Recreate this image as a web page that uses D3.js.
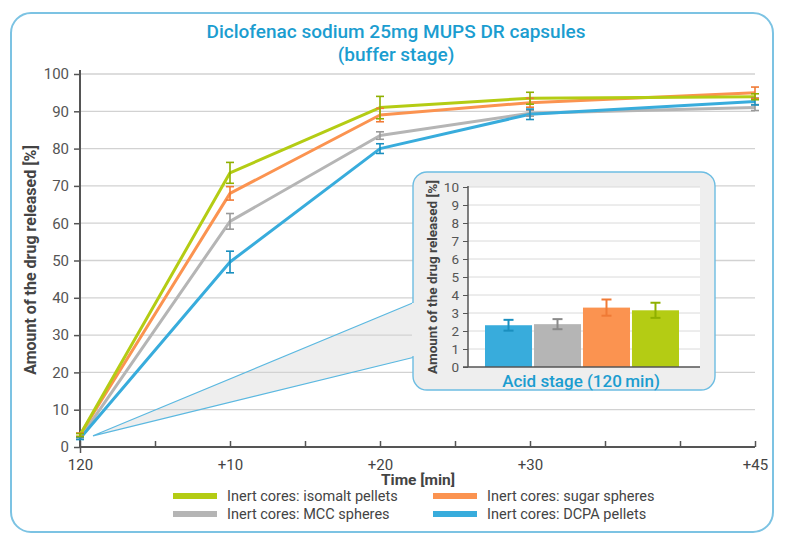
<!DOCTYPE html>
<html><head><meta charset="utf-8">
<script src="https://cdn.jsdelivr.net/npm/d3@7"></script>
<style>
body{margin:0;background:#fff;}
text{font-family:"Roboto","DejaVu Sans",sans-serif;}
</style></head>
<body>
<svg id="c" width="786" height="547"></svg>
<script>
// ---- data ----
const seriesNames = ["Inert cores: isomalt pellets","Inert cores: sugar spheres","Inert cores: MCC spheres","Inert cores: DCPA pellets"];
const seriesColors = ["#b4cc14","#fb9350","#b5b5b5","#38acdc"];
const errColors = ["#8fb000","#f07a35","#9a9a9a","#1a8fbf"];
const timePoints = [0,10,20,30,45];
const isomaltVals = [3.2,73.5,91.0,93.5,93.9];
const isomaltErr  = [0.4,2.8,3.0,1.6,0.8];
const sugarVals   = [3.3,68.0,89.0,92.3,95.0];
const sugarErr    = [0.45,1.8,1.8,1.2,1.5];
const mccVals     = [2.4,60.5,83.5,89.5,91.0];
const mccErr      = [0.3,2.1,1.0,0.8,0.8];
const dcpaVals    = [2.3,49.6,80.0,89.2,92.6];
const dcpaErr     = [0.3,2.9,1.3,1.4,0.9];
const xTickVals = [0,5,10,15,20,25,30,35,40,45];
const xTickLabels = {0:"120",10:"+10",20:"+20",30:"+30",45:"+45"};
const yTicks = [0,10,20,30,40,50,60,70,80,90,100];
// inset (acid stage)
const barCats = ["DCPA","MCC","sugar","isomalt"];
const barVals = [2.32,2.38,3.3,3.15];
const barErr  = [0.3,0.28,0.45,0.42];
const barColors = ["#38acdc","#b5b5b5","#fb9350","#b4cc14"];
const barErrColors = ["#1a8fbf","#8a8a8a","#f07a35","#8fb000"];
const insetTicks = [0,1,2,3,4,5,6,7,8,9,10];

const allVals=[isomaltVals,sugarVals,mccVals,dcpaVals];
const allErr=[isomaltErr,sugarErr,mccErr,dcpaErr];

const svg=d3.select("#c");
const axisCol="#555";
const FONT="Roboto, DejaVu Sans, sans-serif";

// frame
svg.append("rect").attr("x",11).attr("y",13).attr("width",762).attr("height",519)
  .attr("rx",20).attr("fill","#fff").attr("stroke","#7cc3e3").attr("stroke-width",2);

// title
svg.append("text").attr("x",396).attr("y",38).attr("text-anchor","middle").attr("font-weight",500)
  .attr("fill","#1b9dd0").attr("font-size",19).text("Diclofenac sodium 25mg MUPS DR capsules");
svg.append("text").attr("x",396).attr("y",61).attr("text-anchor","middle").attr("font-weight",500)
  .attr("fill","#1b9dd0").attr("font-size",19).text("(buffer stage)");

const x=d3.scaleLinear().domain([0,45]).range([80,755]);
const y=d3.scaleLinear().domain([0,100]).range([447,74]);

// wedge (under grid)
const ix0=413, ix1=715, iy0=172, iy1=390;
svg.append("path").attr("d",`M${x(0)+13},${y(3)}L${ix0+2},${302}L${ix0+2},${357}Z`)
  .attr("fill","#eeeeee").attr("stroke","none");

// grid
svg.append("g").selectAll("line").data(yTicks.filter(d=>d>0)).join("line")
  .attr("x1",80).attr("x2",755).attr("y1",d=>y(d)).attr("y2",d=>y(d))
  .attr("stroke","#d2d2d2").attr("stroke-width",1.3);

// wedge lines
svg.append("path").attr("d",`M${ix0+2},302L${x(0)+13},${y(3)}L${ix0+2},357`)
  .attr("fill","none").attr("stroke","#5bb8e0").attr("stroke-width",1.2);

// y axis
const ya=svg.append("g").attr("transform","translate(80,0)")
  .call(d3.axisLeft(y).tickValues(yTicks).tickSize(6).tickPadding(5));
ya.select(".domain").attr("stroke",axisCol).attr("stroke-width",2).attr("d","M0,447V70");
ya.selectAll(".tick line").attr("stroke",axisCol).attr("stroke-width",1.5);
ya.selectAll(".tick text").attr("font-size",15).attr("fill","#555").attr("font-family",FONT);

// x axis
const xa=svg.append("g").attr("transform","translate(0,447)")
  .call(d3.axisBottom(x).tickValues(xTickVals).tickSize(6).tickPadding(6).tickFormat(d=>xTickLabels[d]||""));
xa.select(".domain").attr("stroke",axisCol).attr("stroke-width",2).attr("d","M80,0H755");
xa.selectAll(".tick line").attr("stroke",axisCol).attr("stroke-width",1.5).attr("y1",-6).attr("y2",0);
xa.selectAll(".tick text").attr("font-size",15).attr("fill","#444").attr("font-family",FONT);
xa.selectAll(".tick").filter(d=>d===0).select("line").attr("y2",6).attr("y1",-6);

svg.append("text").attr("x",418).attr("y",485).attr("text-anchor","middle")
  .attr("font-size",15.5).attr("font-weight","bold").attr("fill","#444").text("Time [min]");
svg.append("text").attr("transform","translate(36,260) rotate(-90)").attr("text-anchor","middle")
  .attr("font-size",16).attr("font-weight","bold").attr("fill","#444").text("Amount of the drug released [%]");

// lines, drawn bottom to top
const line=d3.line().x((d,i)=>x(timePoints[i])).y(d=>y(d));
[2,3,1,0].forEach(s=>{
  svg.append("path").datum(allVals[s]).attr("d",line).attr("fill","none")
    .attr("stroke",seriesColors[s]).attr("stroke-width",3).attr("stroke-linejoin","round");
});
[2,3,1,0].forEach(s=>{
  const g=svg.append("g").attr("stroke",errColors[s]).attr("stroke-width",1.6);
  allVals[s].forEach((v,i)=>{
    const cx=x(timePoints[i]), e=allErr[s][i];
    g.append("line").attr("x1",cx).attr("x2",cx).attr("y1",y(v-e)).attr("y2",y(v+e));
    g.append("line").attr("x1",cx-4).attr("x2",cx+4).attr("y1",y(v-e)).attr("y2",y(v-e));
    g.append("line").attr("x1",cx-4).attr("x2",cx+4).attr("y1",y(v+e)).attr("y2",y(v+e));
  });
});

// inset box
svg.append("rect").attr("x",ix0).attr("y",iy0).attr("width",ix1-ix0).attr("height",iy1-iy0)
  .attr("rx",14).attr("fill","#eeeeee").attr("stroke","#6dbde2").attr("stroke-width",1.4);
// cover the wedge seam
svg.append("rect").attr("x",ix0-1).attr("y",303).attr("width",4).attr("height",53).attr("fill","#eeeeee");

const iy=d3.scaleLinear().domain([0,10]).range([367,187]);
const ib=d3.scaleBand().domain(barCats).range([485,679]).paddingInner(0.04);
svg.append("rect").attr("x",468).attr("y",187).attr("width",232).attr("height",180).attr("fill","#fff");
svg.append("g").selectAll("line").data(insetTicks.filter(d=>d>0)).join("line")
  .attr("x1",468).attr("x2",700).attr("y1",d=>iy(d)).attr("y2",d=>iy(d))
  .attr("stroke","#dadada").attr("stroke-width",1);
svg.append("g").selectAll("rect").data(barVals).join("rect")
  .attr("x",(d,i)=>ib(barCats[i])).attr("width",ib.bandwidth())
  .attr("y",d=>iy(d)).attr("height",d=>iy(0)-iy(d)).attr("fill",(d,i)=>barColors[i]);
barVals.forEach((v,i)=>{
  const cx=ib(barCats[i])+ib.bandwidth()/2, e=barErr[i];
  const g=svg.append("g").attr("stroke",barErrColors[i]).attr("stroke-width",2);
  g.append("line").attr("x1",cx).attr("x2",cx).attr("y1",iy(v-e)).attr("y2",iy(v+e));
  g.append("line").attr("x1",cx-5).attr("x2",cx+5).attr("y1",iy(v-e)).attr("y2",iy(v-e));
  g.append("line").attr("x1",cx-5).attr("x2",cx+5).attr("y1",iy(v+e)).attr("y2",iy(v+e));
});
const iya=svg.append("g").attr("transform","translate(468,0)")
  .call(d3.axisLeft(iy).tickValues(insetTicks).tickSize(5).tickPadding(4));
iya.select(".domain").attr("stroke",axisCol).attr("stroke-width",1.5).attr("d","M0,367V186");
iya.selectAll(".tick line").attr("stroke",axisCol);
iya.selectAll(".tick text").attr("font-size",13.5).attr("fill","#555").attr("font-family",FONT);
svg.append("line").attr("x1",463).attr("x2",700).attr("y1",367).attr("y2",367).attr("stroke",axisCol).attr("stroke-width",1.5);
svg.append("text").attr("transform","translate(437,277) rotate(-90)").attr("text-anchor","middle")
  .attr("font-size",13.5).attr("font-weight","bold").attr("fill","#444").text("Amount of the drug released [%]");
svg.append("text").attr("x",581).attr("y",387).attr("text-anchor","middle").attr("font-weight",500)
  .attr("font-size",17).attr("fill","#1b9dd0").text("Acid stage (120\u2009min)");

// legend
const legPos=[[173,496],[433,496],[173,514],[433,514]];
legPos.forEach(([lx,ly],s)=>{
  svg.append("rect").attr("x",lx).attr("y",ly-3).attr("width",44).attr("height",6).attr("fill",seriesColors[s]);
  svg.append("text").attr("x",lx+54).attr("y",ly+5).attr("font-size",14.5).attr("fill","#444").text(seriesNames[s]);
});
</script>
</body></html>
